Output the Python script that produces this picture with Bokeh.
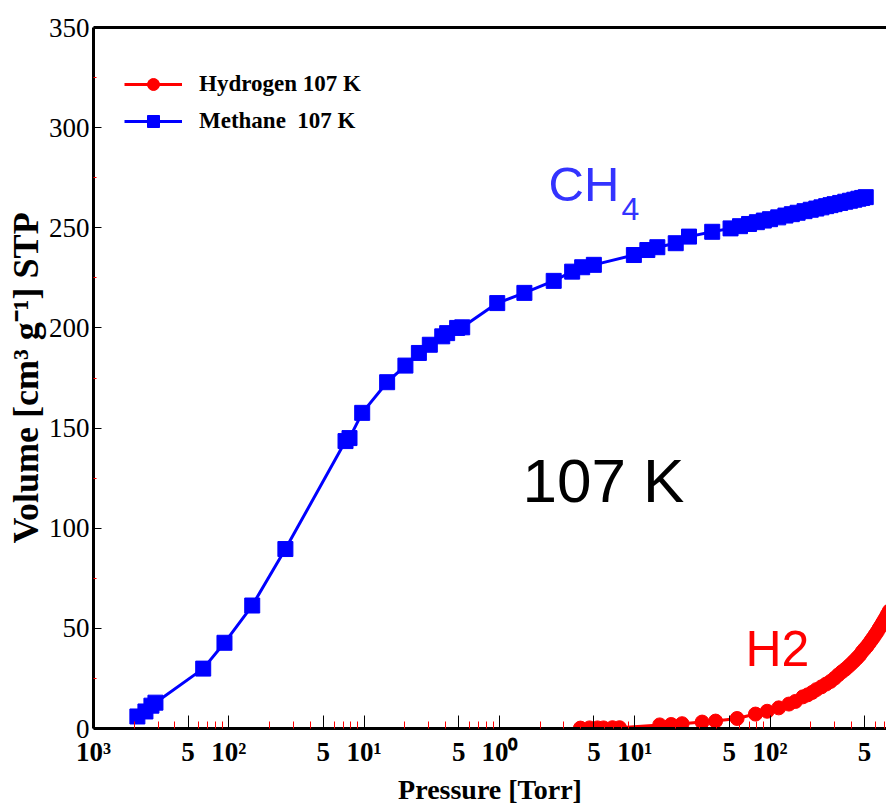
import math

from bokeh.plotting import figure
from bokeh.models import (Range1d, FixedTicker, CustomJSTickFormatter, LogAxis,
                          Legend, LegendItem, Label)
from bokeh.embed import file_html
from bokeh.resources import INLINE

# ---- data: adsorption isotherms at 107 K (pressure in Torr, volume in cm3/g STP)
methane_p = [0.00211, 0.00242, 0.00268, 0.00287, 0.00647, 0.00929, 0.0149, 0.0262,
             0.0729, 0.078, 0.0968, 0.148, 0.202, 0.254, 0.306, 0.378, 0.411, 0.487,
             0.531, 0.964, 1.53, 2.52, 3.45, 4.09, 4.99, 9.86, 12.4, 14.7, 20.1, 25.2,
             37.4, 51.1, 60, 70, 80, 90, 100, 115, 130, 145, 160, 180, 200, 220, 240,
             260, 280, 300, 330, 360, 390, 420, 450, 480, 510]
methane_v = [6.0, 8.5, 11.4, 12.9, 29.9, 42.8, 61.4, 89.6,
             143.5, 145.0, 157.6, 172.9, 181.2, 187.5, 191.6, 195.8, 197.4, 200.0,
             200.3, 212.4, 217.5, 223.5, 228.1, 230.3, 231.5, 236.4, 238.9, 240.3, 242.3, 245.6,
             248.0, 249.7, 250.8, 251.9, 252.8, 253.6, 254.3, 255.2, 256.1, 256.8, 257.5, 258.3,
             259.0, 259.6, 260.2, 260.8, 261.3, 261.8, 262.4, 263.0, 263.5, 264.0, 264.5, 264.9,
             265.3]

hydrogen_p = [3.97, 4.63, 5.31, 5.88, 6.85, 7.72, 15.3, 18.6, 22.4, 31.5, 39.6, 57.1,
              78.1, 95.3, 116, 138, 154, 175, 190, 205, 220, 240, 260, 280, 300, 320,
              340, 360, 380, 400, 420, 440, 460, 480, 500, 520, 540, 560, 580, 600, 620,
              640, 660, 680, 700, 720, 740, 760]
hydrogen_v = [0.2, 0.3, 0.3, 0.3, 0.4, 0.4, 1.8, 2.0, 2.4, 3.2, 3.7, 5.0,
              7.2, 8.6, 10.3, 12.2, 13.5, 15.8, 16.8, 18.0, 19.4, 20.8, 22.2, 23.5, 25.1, 26.8,
              28.3, 29.6, 31.0, 32.4, 33.8, 35.2, 36.6, 38.3, 39.7, 41.0, 42.5, 44.0, 45.4, 46.9, 48.3,
              49.9, 51.3, 52.8, 54.2, 55.6, 57.1, 58.6]

# ---- axis ticks
x_major = [1e-3, 5e-3, 1e-2, 5e-2, 1e-1, 5e-1, 1e0, 5e0, 1e1, 5e1, 1e2, 5e2]
x_major_labels = ["10³", "5", "10²", "5", "10¹", "5", "10⁰", "5", "10¹", "5", "10²", "5"]
x_minor = [m * 10.0 ** e for e in range(-3, 3) for m in (2, 3, 4, 6, 7, 8, 9)]
y_major = [0, 50, 100, 150, 200, 250, 300, 350]
y_minor = [25, 75, 125, 175, 225, 275, 325]

p = figure(width=886, height=807, x_axis_type="log",
           x_range=Range1d(1e-3, 10 ** 2.861), y_range=Range1d(0, 350),
           output_backend="svg", toolbar_location=None,
           min_border_left=93, min_border_right=0, min_border_top=27, min_border_bottom=77)
p.outline_line_color = None
p.grid.visible = False
p.background_fill_color = "white"
p.border_fill_color = "white"

# x axis: log pressure, labelled decades and half-decades
xa = p.xaxis[0]
xa.ticker = FixedTicker(ticks=x_major, minor_ticks=x_minor)
xa.formatter = CustomJSTickFormatter(
    args=dict(keys=[round(math.log10(t) * 1000) for t in x_major],
              texts=x_major_labels),
    code="""
const k = Math.round(Math.log10(tick) * 1000);
const i = keys.indexOf(k);
return i >= 0 ? texts[i] : "";
""")
xa.axis_line_width = 3
xa.axis_line_color = "black"
xa.major_tick_in = 13
xa.major_tick_out = 0
xa.major_tick_line_color = "black"
xa.major_tick_line_width = 1
xa.minor_tick_in = 7
xa.minor_tick_out = 0
xa.minor_tick_line_color = "red"
xa.major_label_text_color = "black"
xa.major_label_text_font = "Liberation Serif"
xa.major_label_text_font_style = "bold"
xa.major_label_text_font_size = "27px"
xa.major_label_standoff = 8
xa.axis_label = "Pressure [Torr]"
xa.axis_label_text_color = "black"
xa.axis_label_text_font = "Liberation Serif"
xa.axis_label_text_font_style = "bold"
xa.axis_label_text_font_size = "28px"
xa.axis_label_standoff = 4

# y axis: adsorbed volume
ya = p.yaxis[0]
ya.ticker = FixedTicker(ticks=y_major, minor_ticks=y_minor)
ya.axis_line_width = 3
ya.axis_line_color = "black"
ya.major_tick_in = 8
ya.major_tick_out = 0
ya.major_tick_line_color = "black"
ya.major_tick_line_width = 1
ya.minor_tick_in = 3
ya.minor_tick_out = 0
ya.minor_tick_line_color = "red"
ya.major_label_text_color = "black"
ya.major_label_text_font = "Liberation Serif"
ya.major_label_text_font_size = "27px"
ya.major_label_standoff = 4
ya.axis_label = "Volume [cm³ g⁻¹] STP"
ya.axis_label_text_color = "black"
ya.axis_label_text_font = "Liberation Serif"
ya.axis_label_text_font_style = "bold"
ya.axis_label_text_font_size = "36px"
ya.axis_label_standoff = 0

# top frame line
top = LogAxis(ticker=FixedTicker(ticks=[]), axis_line_width=3, axis_line_color="black",
              major_tick_line_color=None, minor_tick_line_color=None,
              major_label_text_font_size="0px")
p.add_layout(top, "above")

# isotherms
h_line = p.line(hydrogen_p, hydrogen_v, line_color="#ff0000", line_width=3)
h_pts = p.scatter(hydrogen_p, hydrogen_v, marker="circle", size=14,
                  fill_color="#ff0000", line_color="#ff0000")
m_line = p.line(methane_p, methane_v, line_color="#0000ff", line_width=3)
m_pts = p.scatter(methane_p, methane_v, marker="square", size=15,
                  fill_color="#0000ff", line_color="#0000ff")

legend = Legend(items=[LegendItem(label="Hydrogen 107 K", renderers=[h_line, h_pts]),
                       LegendItem(label="Methane  107 K", renderers=[m_line, m_pts])],
                location=(31, 592), padding=5, spacing=7, margin=0,
                glyph_width=58, glyph_height=30, label_height=30, label_standoff=17,
                label_text_color="black",
                label_text_font="Liberation Serif", label_text_font_style="bold",
                label_text_font_size="23px", border_line_color=None,
                background_fill_alpha=0)
p.add_layout(legend)

# annotations
p.add_layout(Label(x=2.31, y=271.8, text="CH", text_color="#3333ff",
                   text_font="Liberation Sans", text_font_size="49px",
                   text_baseline="alphabetic"))
p.add_layout(Label(x=7.98, y=259.6, text="4", text_color="#3333ff",
                   text_font="Liberation Sans", text_font_size="32px",
                   text_baseline="alphabetic"))
p.add_layout(Label(x=65.9, y=39.9, text="H2", text_color="#ff0000",
                   text_font="Liberation Sans", text_font_size="50px",
                   text_baseline="alphabetic"))
p.add_layout(Label(x=1.48, y=123.7, text="107 K", text_color="black",
                   text_font="Liberation Sans", text_font_size="62px",
                   text_baseline="alphabetic"))

open("out.html", "w").write(file_html(p, INLINE))
